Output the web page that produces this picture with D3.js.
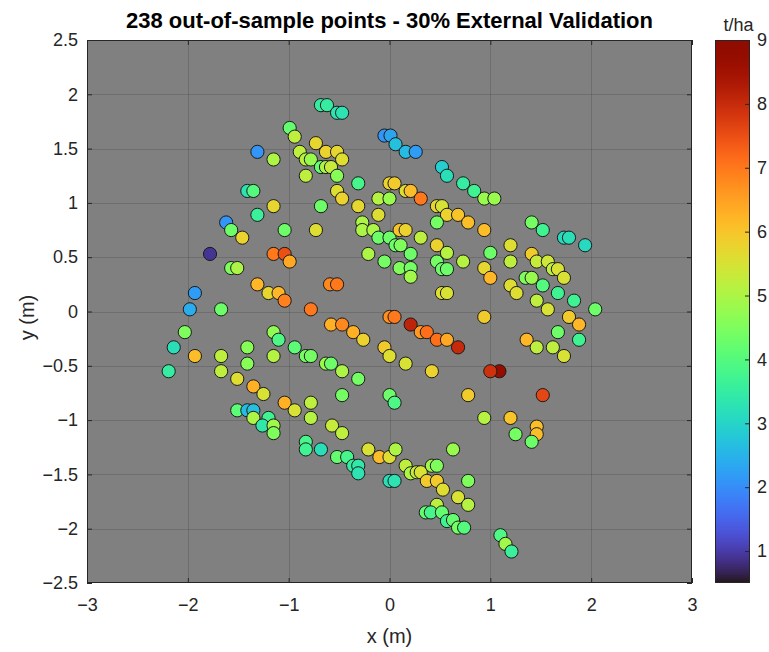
<!DOCTYPE html>
<html>
<head>
<meta charset="utf-8">
<style>
  body{margin:0;background:#fff}
  svg text{font-family:"Liberation Sans",Arial,Helvetica,sans-serif;fill:#262626}
  .grid line{stroke:#000;stroke-opacity:0.14}
</style>
</head>
<body>
<div id="chart"></div>
<script src="https://cdn.jsdelivr.net/npm/d3@7"></script>
<script>
// sample positions (m) and value (t/ha)
var xs = [
  -0.68,-0.62,-0.52,-0.47,-0.99,-0.94,-1.31,-1.15,-0.89,-0.73,-0.63,-0.83,-0.78,-0.68,-0.63,-0.58,-0.83,
  -1.41,-1.35,-1.15,-0.68,-1.31,-1.62,-1.57,-1.46,-1.04,-0.73,-1.78,-1.15,-1.04,-0.99,-1.57,-1.51,
  -0.05,0.01,0.06,0.16,0.26,-0.52,-0.47,-0.52,-0.31,0.00,0.05,0.16,0.21,0.31,-0.52,-0.47,-0.31,-0.11,
  0.00,-0.11,-0.27,-0.27,-0.16,-0.11,0.00,0.10,0.16,0.06,0.11,0.31,-0.21,-0.05,0.10,0.21,0.21,
  0.52,0.57,0.73,0.84,0.94,1.04,0.47,0.52,0.57,0.68,0.78,0.47,0.94,0.47,0.57,0.47,0.52,0.57,0.73,1.00,0.94,
  1.41,1.52,1.73,1.78,1.94,1.20,1.41,1.20,1.46,1.57,1.62,1.67,1.73,1.35,1.41,1.20,1.26,1.52,1.67,1.46,
  1.57,1.83,2.04,1.78,1.88,1.67,1.88,1.36,1.46,1.62,1.73,1.00,1.09,1.00,1.52,1.20,1.46,1.46,1.41,1.25,0.94,
  1.10,1.15,1.21,
  -1.31,-1.20,-1.10,-1.04,-1.93,-1.98,-1.67,-0.78,-0.59,-0.52,-0.58,-0.47,-2.03,-2.14,-1.93,-2.19,-1.67,
  -1.67,-1.51,-1.35,-1.25,-1.41,-1.41,-1.15,-1.10,-1.15,-0.94,-0.83,-0.78,-0.63,-0.58,-1.04,-0.94,-0.78,
  -0.78,-0.57,-1.51,-1.41,-1.35,-1.35,-1.20,-1.26,-1.15,-1.15,-0.83,-0.83,-0.68,
  0.21,0.52,0.57,-0.36,-0.26,0.00,0.05,0.21,0.31,0.37,0.47,0.57,0.68,0.94,-0.05,0.00,0.16,0.42,-0.47,
  -0.31,-0.47,0.00,0.05,0.78,-0.47,
  -0.52,-0.42,-0.36,-0.31,-0.31,-0.21,-0.10,0.00,0.06,0.00,0.05,0.16,0.21,0.27,0.31,0.37,0.47,0.53,0.42,
  0.47,0.63,0.78,0.68,0.78,0.47,0.36,0.41,0.52,0.57,0.63,0.68,0.74
];
var ys = [
  1.90,1.90,1.83,1.83,1.69,1.61,1.47,1.40,1.47,1.55,1.47,1.40,1.40,1.33,1.33,1.33,1.25,
  1.11,1.11,0.97,0.97,0.89,0.82,0.75,0.68,0.75,0.75,0.53,0.53,0.53,0.46,0.40,0.40,
  1.62,1.62,1.54,1.47,1.47,1.47,1.40,1.25,1.18,1.18,1.18,1.11,1.11,1.04,1.11,1.04,0.97,1.04,
  1.04,0.89,0.82,0.75,0.75,0.68,0.68,0.75,0.75,0.61,0.61,0.68,0.53,0.46,0.40,0.40,0.53,
  1.33,1.25,1.18,1.11,1.04,1.04,0.97,0.97,0.89,0.89,0.82,0.82,0.75,0.61,0.54,0.46,0.39,0.39,0.46,0.54,0.40,
  0.82,0.75,0.68,0.68,0.61,0.61,0.53,0.46,0.46,0.46,0.39,0.39,0.31,0.31,0.31,0.24,0.17,0.24,0.17,0.10,
  0.02,0.10,0.02,-0.05,-0.12,-0.19,-0.26,-0.26,-0.33,-0.33,-0.41,0.31,-0.55,-0.55,-0.77,-0.98,-1.06,-1.13,-1.20,-1.13,-0.98,
  -2.06,-2.14,-2.21,
  0.25,0.17,0.17,0.10,0.17,0.02,0.02,0.02,0.25,0.25,-0.12,-0.12,-0.19,-0.33,-0.41,-0.55,-0.41,
  -0.55,-0.62,-0.69,-0.76,-0.33,-0.48,-0.19,-0.26,-0.41,-0.33,-0.41,-0.41,-0.48,-0.48,-0.84,-0.91,-0.84,
  -0.98,-1.05,-0.91,-0.91,-0.91,-0.98,-0.98,-1.05,-1.05,-1.12,-1.20,-1.27,-1.27,
  0.32,0.17,0.17,-0.19,-0.26,-0.05,-0.05,-0.12,-0.19,-0.19,-0.26,-0.26,-0.33,-0.05,-0.33,-0.41,-0.48,-0.55,-0.55,
  -0.62,-0.77,-0.77,-0.84,-0.77,-1.12,
  -1.34,-1.34,-1.42,-1.42,-1.49,-1.27,-1.34,-1.34,-1.27,-1.56,-1.56,-1.42,-1.49,-1.48,-1.48,-1.56,-1.56,-1.64,-1.42,
  -1.42,-1.27,-1.56,-1.71,-1.78,-1.78,-1.85,-1.85,-1.85,-1.93,-1.92,-1.99,-1.99
];
var vals = [
  3.5,3.5,3.3,3.3,4.2,5.2,2.1,5.0,5.2,5.7,5.8,5.2,4.8,4.2,5.0,5.3,5.2,
  3.3,4.0,5.7,4.3,3.6,2.1,4.3,5.8,4.3,5.6,0.9,7.0,7.5,6.4,4.5,5.0,
  2.1,2.3,2.7,2.6,2.2,5.7,5.6,4.6,3.8,5.8,5.9,5.6,6.1,7.0,5.6,5.8,5.7,5.1,
  4.8,5.6,5.0,5.0,5.0,4.3,4.3,6.0,5.8,4.3,4.5,5.2,5.0,4.4,4.5,4.4,4.3,
  2.9,3.2,3.5,3.7,4.8,4.8,5.7,5.5,5.8,6.0,6.1,4.4,6.1,5.8,5.1,4.4,4.3,4.3,5.1,4.3,5.7,
  4.4,3.7,3.1,3.2,3.1,5.6,5.9,5.2,5.3,5.4,5.2,5.5,5.5,4.5,4.8,5.6,5.6,4.0,3.7,5.2,
  5.5,3.7,4.3,5.9,6.2,4.3,3.7,6.2,5.2,5.2,5.5,6.2,8.7,7.9,7.6,6.0,6.1,6.1,4.3,4.4,5.1,
  3.9,4.9,3.6,
  6.2,5.7,6.2,6.9,2.2,2.4,4.3,7.0,6.8,7.0,6.3,6.8,4.5,3.2,6.1,3.5,5.2,
  5.2,5.6,6.3,5.5,4.6,4.6,4.7,3.9,5.1,4.1,4.4,4.4,4.8,4.3,6.3,5.5,5.2,
  5.1,5.3,4.1,2.6,2.7,5.0,3.7,3.4,4.9,4.5,3.8,3.7,3.2,
  4.9,5.6,5.5,6.3,5.8,6.7,7.0,8.1,6.6,7.1,7.1,6.4,8.0,5.9,5.9,5.6,5.5,5.8,5.0,
  4.4,4.4,4.3,3.9,5.9,5.2,
  4.2,3.8,3.5,3.4,3.3,5.5,6.1,5.6,5.0,3.2,3.3,5.2,5.0,5.3,5.5,5.9,5.9,5.6,4.9,
  4.5,4.8,4.5,5.5,5.1,5.2,4.2,3.8,4.2,3.7,4.2,4.4,4.0
];
var xTicks = [-3,-2,-1,0,1,2,3];
var yTicks = [-2.5,-2,-1.5,-1,-0.5,0,0.5,1,1.5,2,2.5];
var cTicks = [1,2,3,4,5,6,7,8,9];
var cRange = [0.5, 9];

var W = 769, H = 652,
    m = {left: 87, top: 40, right: 692, bottom: 583},
    cb = {x0: 715, x1: 750},
    FS = 18;

var svg = d3.select('#chart').append('svg')
  .attr('width', W).attr('height', H);

var x = d3.scaleLinear().domain([-3, 3]).range([m.left, m.right]);
var y = d3.scaleLinear().domain([-2.5, 2.5]).range([m.bottom, m.top]);
var col = d3.scaleSequential(d3.interpolateTurbo).domain(cRange);

// axes background
svg.append('rect')
  .attr('x', m.left).attr('y', m.top)
  .attr('width', m.right - m.left).attr('height', m.bottom - m.top)
  .attr('fill', '#808080');

// grid
var grid = svg.append('g').attr('class', 'grid');
grid.selectAll('.gx').data(xTicks.slice(1, -1)).enter().append('line')
  .attr('x1', d => Math.round(x(d)) + 0.5).attr('x2', d => Math.round(x(d)) + 0.5)
  .attr('y1', m.top).attr('y2', m.bottom);
grid.selectAll('.gy').data(yTicks.slice(1, -1)).enter().append('line')
  .attr('y1', d => Math.round(y(d)) + 0.5).attr('y2', d => Math.round(y(d)) + 0.5)
  .attr('x1', m.left).attr('x2', m.right);

// axes, ticks pointing inward
function axis(g, gen) {
  g.call(gen);
  g.select('.domain').remove();
  g.selectAll('line').attr('stroke', '#262626');
  g.selectAll('text').attr('fill', '#262626').style('font-size', FS + 'px')
    .style('font-family', '"Liberation Sans",Arial,sans-serif');
}
svg.append('g').attr('transform', 'translate(0,' + m.bottom + ')')
  .call(axis, d3.axisBottom(x).tickValues(xTicks).tickSizeInner(-5).tickPadding(15).tickFormat(d3.format('')));
svg.append('g').attr('transform', 'translate(0,' + m.top + ')')
  .call(axis, d3.axisTop(x).tickValues(xTicks).tickSizeInner(-5).tickFormat(''));
svg.append('g').attr('transform', 'translate(' + m.left + ',0)')
  .call(axis, d3.axisLeft(y).tickValues(yTicks).tickSizeInner(-5).tickPadding(9).tickFormat(d3.format('')));
svg.append('g').attr('transform', 'translate(' + m.right + ',0)')
  .call(axis, d3.axisRight(y).tickValues(yTicks).tickSizeInner(-5).tickFormat(''));

// frame
svg.append('rect')
  .attr('x', m.left + 0.5).attr('y', m.top + 0.5)
  .attr('width', m.right - m.left - 1).attr('height', m.bottom - m.top - 1)
  .attr('fill', 'none').attr('stroke', '#262626');

// points
svg.append('g').selectAll('circle')
  .data(d3.range(xs.length))
  .enter().append('circle')
  .attr('cx', i => x(xs[i]))
  .attr('cy', i => y(ys[i]))
  .attr('r', 6.6)
  .attr('fill', i => col(vals[i]))
  .attr('stroke', '#1a1a1a')
  .attr('stroke-width', 1);

// labels
svg.append('text')
  .attr('x', (m.left + m.right) / 2).attr('y', 28)
  .attr('text-anchor', 'middle')
  .style('font-size', '22px').style('font-weight', 'bold').style('fill', '#000')
  .text('238 out-of-sample points - 30% External Validation');
svg.append('text')
  .attr('x', (m.left + m.right) / 2).attr('y', 643)
  .attr('text-anchor', 'middle').style('font-size', '20px')
  .text('x (m)');
svg.append('text')
  .attr('transform', 'translate(34,' + ((m.top + m.bottom) / 2 + 6) + ') rotate(-90)')
  .attr('text-anchor', 'middle').style('font-size', '20px')
  .text('y (m)');

// colorbar
var cy = d3.scaleLinear().domain(cRange).range([m.bottom, m.top]);
var grad = svg.append('defs').append('linearGradient').attr('id', 'cbar')
  .attr('x1', 0).attr('y1', 1).attr('x2', 0).attr('y2', 0);
grad.selectAll('stop').data(d3.range(0, 1.0001, 0.02)).enter().append('stop')
  .attr('offset', d => d)
  .attr('stop-color', d => d3.interpolateTurbo(d));
svg.append('rect')
  .attr('x', cb.x0).attr('y', m.top)
  .attr('width', cb.x1 - cb.x0).attr('height', m.bottom - m.top)
  .attr('fill', 'url(#cbar)');
svg.append('g').attr('transform', 'translate(' + cb.x1 + ',0)')
  .call(axis, d3.axisRight(cy).tickValues(cTicks).tickSizeInner(-5).tickPadding(7));
svg.append('rect')
  .attr('x', cb.x0 + 0.5).attr('y', m.top + 0.5)
  .attr('width', cb.x1 - cb.x0 - 1).attr('height', m.bottom - m.top - 1)
  .attr('fill', 'none').attr('stroke', '#262626');
svg.append('text')
  .attr('x', (cb.x0 + cb.x1) / 2 + 6).attr('y', 31)
  .attr('text-anchor', 'middle').style('font-size', FS + 'px')
  .text('t/ha');
</script>
</body>
</html>
